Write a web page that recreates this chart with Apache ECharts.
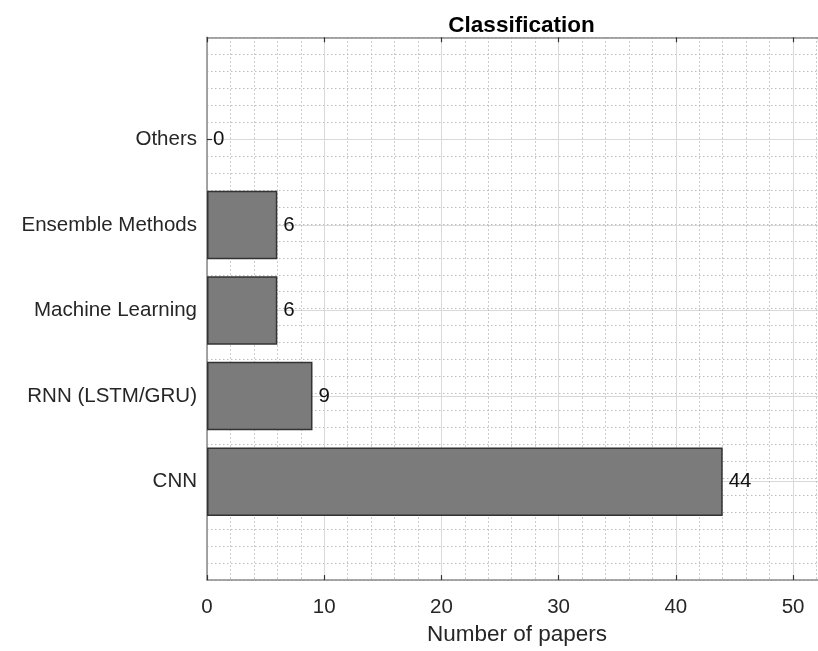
<!DOCTYPE html>
<html>
<head>
<meta charset="utf-8">
<script src="https://cdn.jsdelivr.net/npm/echarts@6/dist/echarts.min.js"></script>
<style>html,body{margin:0;padding:0;background:#fff}#c{width:818px;height:651px}</style>
</head>
<body>
<div id="c"></div>
<script>
// Data
const categories = ['CNN', 'RNN (LSTM/GRU)', 'Machine Learning', 'Ensemble Methods', 'Others'];
const papers = [44, 9, 6, 6, 0];
const xTickInterval = 10;
const xMinorInterval = 2;
const xMax = 52.13;
const titleText = 'Classification';
const xLabelText = 'Number of papers';

const FONT = '"Liberation Sans", Arial, sans-serif';
const boxColor = '#8a8a8a';
const majorGrid = '#d9d9d9';
const minorGrid = '#bdbdbd';

const chart = echarts.init(document.getElementById('c'), null, {renderer: 'canvas'});

const gridBox = {left: 207, right: 0, top: 37.3, bottom: 66.5};
const gridBars = {left: 207, right: 0, top: 139.3, bottom: 169.3};

const barData = papers.map(v => v === 0 ? {value: v, itemStyle: {borderWidth: 0}} : v);

chart.setOption({
  animation: false,
  backgroundColor: '#ffffff',
  title: {
    text: titleText,
    left: 516.5,
    top: 9,
    textAlign: 'center',
    textStyle: {fontFamily: FONT, fontSize: 22.5, fontWeight: 'bold', color: '#000'}
  },
  grid: [
    Object.assign({containLabel: false}, gridBox),
    Object.assign({containLabel: false}, gridBars)
  ],
  xAxis: [
    { // minor vertical grid
      type: 'value', gridIndex: 0, min: 0, max: xMax, interval: xMinorInterval, position: 'bottom',
      axisLine: {show: false}, axisTick: {show: false}, axisLabel: {show: false},
      splitLine: {show: true, lineStyle: {color: minorGrid, width: 1, type: [1.5, 2.5]}}
    },
    { // major bottom axis
      type: 'value', gridIndex: 0, min: 0, max: xMax, interval: xTickInterval, position: 'bottom',
      name: xLabelText, nameLocation: 'middle', nameGap: 32,
      nameTextStyle: {fontFamily: FONT, fontSize: 22.5, color: '#262626', padding: [0, 0, 0, 9]},
      axisLine: {show: true, onZero: false, lineStyle: {color: boxColor, width: 1.5}},
      axisTick: {show: true, inside: true, length: 5, lineStyle: {color: '#333', width: 1.2}},
      axisLabel: {show: true, margin: 17, showMaxLabel: false, fontFamily: FONT, fontSize: 20.5, color: '#262626'},
      splitLine: {show: true, lineStyle: {color: majorGrid, width: 1}}
    },
    { // top border with ticks
      type: 'value', gridIndex: 0, min: 0, max: xMax, interval: xTickInterval, position: 'top',
      axisLine: {show: true, onZero: false, lineStyle: {color: boxColor, width: 1.5}},
      axisTick: {show: true, inside: true, length: 5, lineStyle: {color: '#333', width: 1.2}},
      axisLabel: {show: false}, splitLine: {show: false}
    },
    { // bars x axis (hidden)
      type: 'value', gridIndex: 1, min: 0, max: xMax, show: false
    }
  ],
  yAxis: [
    { // minor horizontal grid + left border
      type: 'value', gridIndex: 0, min: -0.2, max: 6.2, interval: 0.2, position: 'left',
      axisLine: {show: true, onZero: false, lineStyle: {color: boxColor, width: 1.5}},
      axisTick: {show: false}, axisLabel: {show: false},
      splitLine: {show: true, lineStyle: {color: minorGrid, width: 1, type: [1.5, 2.5]}}
    },
    { // categories
      type: 'category', gridIndex: 1, data: categories, boundaryGap: false, position: 'left',
      axisLine: {show: false},
      axisTick: {show: true, inside: true, length: 5, alignWithLabel: true, lineStyle: {color: '#333', width: 1.2}},
      axisLabel: {show: true, margin: 10, fontFamily: FONT, fontSize: 20.5, color: '#262626', padding: [4, 0, 0, 0]},
      splitLine: {show: true, lineStyle: {color: majorGrid, width: 1}}
    }
  ],
  series: [{
    type: 'bar',
    xAxisIndex: 3,
    yAxisIndex: 1,
    data: barData,
    barWidth: 68.5,
    clip: false,
    itemStyle: {color: '#7b7b7b', borderColor: '#333333', borderWidth: 1.5},
    label: {
      show: true, position: 'right', distance: 6,
      fontFamily: FONT, fontSize: 20.5, color: '#111', padding: [3, 0, 0, 0]
    }
  }]
});
</script>
</body>
</html>
